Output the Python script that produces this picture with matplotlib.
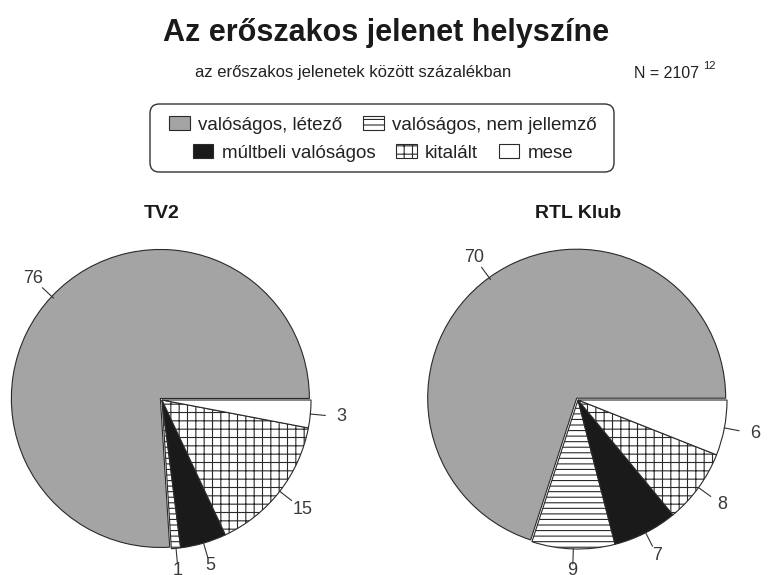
import matplotlib
matplotlib.use("Agg")
import matplotlib.pyplot as plt
import numpy as np
from matplotlib.patches import Patch, FancyBboxPatch

plt.rcParams['font.family'] = ['Liberation Sans', 'DejaVu Sans']
plt.rcParams['hatch.linewidth'] = 0.8

# ---- data ----
categories = ["valóságos, létező", "valóságos, nem jellemző",
              "múltbeli valóságos", "kitalált", "mese"]
tv2_values = [76, 1, 5, 15, 3]
rtl_values = [70, 9, 7, 8, 6]
channels = ["TV2", "RTL Klub"]
title = "Az erőszakos jelenet helyszíne"
subtitle = "az erőszakos jelenetek között százalékban"
n_text = "N = 2107"
n_note = "12"

# ---- styles ----
colors = ["#a4a4a4", "white", "#1a1a1a", "white", "white"]
hatches = [None, "---", None, "++", None]
edge = "#2a2a2a"
explode = [0.015, 0, 0, 0, 0]

W, H = 774, 575
fig = plt.figure(figsize=(W / 100, H / 100), dpi=100)
fig.patch.set_facecolor("white")

fig.text(386 / W, 1 - 33 / H, title, ha="center", va="center",
         fontsize=22, fontweight="bold", color="#1a1a1a")
fig.text(353 / W, 1 - 73 / H, subtitle, ha="center", va="center",
         fontsize=12, color="#222222")
fig.text(634 / W, 1 - 73 / H, n_text, ha="left", va="center",
         fontsize=11.5, color="#222222")
fig.text(703 / W, 1 - 66 / H, n_note, ha="left", va="center",
         fontsize=8, color="#222222")


def pie_axes(cx, cy, r, k=1.35):
    half = r * k
    ax = fig.add_axes([(cx - half) / W, 1 - (cy + half) / H,
                       2 * half / W, 2 * half / H])
    ax.axis("off")
    return ax, k


def draw_pie(ax, k, values):
    wedges, _ = ax.pie(values, colors=colors, startangle=0,
                       counterclock=True, radius=1.0, explode=explode,
                       wedgeprops=dict(edgecolor=edge, linewidth=0.8))
    ax.set_xlim(-k, k)
    ax.set_ylim(-k, k)
    ax.set_aspect("equal")
    for w, h in zip(wedges, hatches):
        if h:
            w.set_hatch(h)
    for w, v in zip(wedges, values):
        th = np.deg2rad((w.theta1 + w.theta2) / 2)
        c, s = np.cos(th), np.sin(th)
        ax.plot([c * 1.0, c * 1.1], [s * 1.0, s * 1.1], color="#333333",
                lw=0.8, clip_on=False)
        rt = 1.14 + 0.07 * abs(c)
        ax.text(c * rt, s * rt, str(v), ha="center", va="center",
                fontsize=13, color="#3a3a3a", clip_on=False)
    return wedges


centers = [(162, 400), (578, 400)]
R = 149
for (cx, cy), vals, name in zip(centers, [tv2_values, rtl_values], channels):
    ax, k = pie_axes(cx, cy, R)
    draw_pie(ax, k, vals)
    fig.text(cx / W, 1 - 213 / H, name, ha="center", va="center",
             fontsize=14, fontweight="bold", color="#1a1a1a")

# ---- legend ----
handles = [Patch(facecolor=c, edgecolor=edge, hatch=h, linewidth=0.8)
           for c, h in zip(colors, hatches)]
lkw = dict(frameon=False, fontsize=13.5, handlelength=1.1, handleheight=0.7,
           handletextpad=0.45, columnspacing=1.1, borderpad=0, labelcolor="#222222")
fig.legend(handles[:2], categories[:2], ncol=2, loc="center",
           bbox_to_anchor=(383 / W, 1 - 125 / H), **lkw)
fig.legend(handles[2:], categories[2:], ncol=3, loc="center",
           bbox_to_anchor=(383 / W, 1 - 153 / H), **lkw)
box = FancyBboxPatch((150 / W, 1 - 172 / H), 464 / W, 68 / H,
                     boxstyle="round,pad=0,rounding_size=0.012",
                     mutation_aspect=W / H,
                     transform=fig.transFigure, facecolor="none",
                     edgecolor="#333333", linewidth=1.0)
fig.patches.append(box)

fig.savefig("out.png", dpi=100, facecolor="white")
